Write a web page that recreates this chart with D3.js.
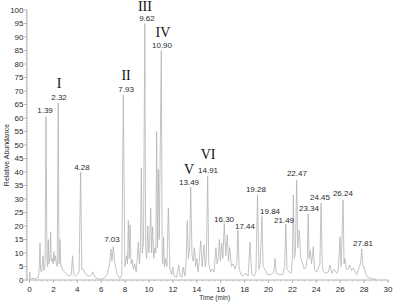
<!DOCTYPE html>
<html><head><meta charset="utf-8">
<script src="https://cdn.jsdelivr.net/npm/d3@7"></script>
<style>html,body{margin:0;padding:0;background:#fff;}svg{display:block;}</style>
</head><body>
<script>
// Chromatogram trace: [time (min), relative abundance]
const trace = [[0,0],[0.02,3],[0.05,0.8],[0.1,0.5],[0.5,0.5],[0.75,1],[0.82,5],[0.88,13.7],[0.93,4],[1.0,3],[1.08,6],[1.13,9],[1.2,3.5],[1.3,5],[1.38,60.4],[1.46,8],[1.52,5],[1.57,15],[1.63,6],[1.7,8],[1.77,17.8],[1.83,7],[1.9,8],[1.97,6],[2.05,10.5],[2.1,7],[2.17,9],[2.25,6],[2.32,5],[2.4,65.5],[2.47,6],[2.55,15],[2.62,5],[2.7,5],[2.8,3.5],[2.95,3],[3.1,2],[3.3,1.5],[3.5,2],[3.6,9],[3.7,2],[3.85,1.5],[4.0,2],[4.15,3],[4.28,40],[4.38,4],[4.5,4],[4.65,2.5],[4.85,1.5],[5.1,1.5],[5.3,3],[5.5,1],[5.8,0.3],[6.2,0.5],[6.5,2],[6.7,6],[6.82,11.5],[6.9,7],[7.01,12.3],[7.15,6],[7.35,2],[7.55,0.5],[7.72,2],[7.85,68.5],[7.98,5],[8.12,9],[8.2,6],[8.27,22],[8.34,8],[8.41,20.4],[8.5,6],[8.6,7.5],[8.7,4],[8.8,6],[8.92,3],[9.02,8],[9.1,14],[9.2,6],[9.28,12],[9.36,41.5],[9.44,10],[9.54,14],[9.65,95],[9.72,12],[9.8,8],[9.9,20],[9.98,10],[10.06,14],[10.14,26.7],[10.22,10],[10.3,19.7],[10.4,8],[10.5,12],[10.57,10],[10.64,55],[10.71,12],[10.78,41],[10.86,15],[11.03,85],[11.1,10],[11.15,6],[11.22,16],[11.3,5],[11.4,8],[11.5,5],[11.62,26.7],[11.75,4],[11.9,2],[11.98,4.8],[12.1,1.5],[12.3,1],[12.5,5.5],[12.6,1.5],[12.75,1],[12.85,4.8],[13.0,1.5],[13.1,6],[13.2,22],[13.3,8],[13.4,12],[13.49,34.4],[13.6,9],[13.7,7],[13.8,12],[13.9,5],[14.0,8],[14.1,3],[14.2,7],[14.33,14.5],[14.45,5],[14.6,13],[14.7,5],[14.8,8],[14.91,38.5],[15.0,6],[15.15,3],[15.3,4],[15.45,3],[15.6,12],[15.7,6],[15.8,8],[15.88,15],[15.98,7],[16.08,13.7],[16.18,8],[16.3,21],[16.42,9],[16.55,16.7],[16.65,7],[16.75,12],[16.9,5],[17.05,6],[17.2,4],[17.35,6],[17.44,18.5],[17.55,4],[17.7,2],[17.9,1.5],[18.1,2.5],[18.3,1.5],[18.45,14],[18.6,2],[18.8,1.5],[18.95,3],[19.08,31.5],[19.2,4],[19.3,6],[19.45,23.5],[19.55,5],[19.7,4],[19.9,2],[20.2,2],[20.45,3],[20.55,8],[20.65,2.5],[20.9,2],[21.2,2],[21.35,5],[21.45,20.7],[21.55,4],[21.7,3],[21.9,2.5],[22.0,8],[22.08,31.5],[22.16,8],[22.25,10],[22.36,37],[22.45,12],[22.58,18.5],[22.7,8],[22.85,6],[23.0,4],[23.15,5],[23.25,8],[23.32,24.4],[23.4,8],[23.5,11],[23.6,6],[23.68,9],[23.75,12.3],[23.85,4],[24.0,3],[24.15,4],[24.3,6],[24.4,28.5],[24.5,5],[24.6,3],[24.8,2.5],[25.0,3],[25.15,5.5],[25.3,2.5],[25.5,4],[25.7,2.5],[25.85,4],[25.98,16],[26.08,5],[26.24,29.6],[26.32,6],[26.4,8],[26.5,4],[26.65,4],[26.8,5.5],[26.95,3.5],[27.1,4.5],[27.25,3],[27.4,2],[27.6,5],[27.7,6],[27.81,11.5],[27.9,5],[28.0,5],[28.15,2],[28.3,1],[28.5,0.8],[28.8,0.3],[29.0,0.3]];

// Peak retention-time labels: [text, time, abundance]
const peakLabels = [["1.39",1.30,61.9],["2.32",2.47,66.7],["7.93",8.08,69.6],["4.28",4.39,40.7],["7.03",6.9,14.1],["9.62",9.83,95.9],["10.90",11.09,85.9],["13.49",13.35,35.2],["14.91",14.94,39.6],["16.30",16.28,21.5],["17.44",18.03,18.9],["19.28",18.95,32.6],["19.84",20.13,24.4],["21.49",21.3,21.1],["22.47",22.38,38.5],["23.34",23.39,25.6],["24.45",24.31,29.6],["26.24",26.23,31.1],["27.81",27.91,12.6]];

// Compound group numerals: [text, time, abundance]
const romanLabels = [["I",2.47,71.1],["II",8.08,74.1],["III",9.66,99.6],["IV",11.17,90],["V",13.35,39.3],["VI",14.94,44.8]];

const xTicks = [0,2,4,6,8,10,12,14,16,18,20,22,24,26,28,30];
const yTicks = [0,5,10,15,20,25,30,35,40,45,50,55,60,65,70,75,80,85,90,95,100];

const W = 400, H = 306;
const svg = d3.select("body").append("svg").attr("width", W).attr("height", H);
const x = d3.scaleLinear().domain([0,30]).range([29.5,388]);
const y = d3.scaleLinear().domain([0,100]).range([280,10]);
const axisColor = "#a0a0a0", textColor = "#2a2a2a";

// Y axis
const yAxisX = 27;
const yMinor = d3.range(0,101,1);
const gy = svg.append("g").attr("transform",`translate(${yAxisX},0)`);
gy.append("line").attr("y1",y(0)).attr("y2",y(100)).attr("stroke",axisColor).attr("stroke-width",0.8);
gy.selectAll("line.minor").data(yMinor).join("line").attr("class","minor")
  .attr("x1",-1.5).attr("x2",0).attr("y1",d=>y(d)).attr("y2",d=>y(d)).attr("stroke",axisColor).attr("stroke-width",0.5);
gy.selectAll("line.major").data(yTicks).join("line").attr("class","major")
  .attr("x1",-3).attr("x2",0).attr("y1",d=>y(d)).attr("y2",d=>y(d)).attr("stroke",axisColor).attr("stroke-width",0.7);
gy.selectAll("text").data(yTicks).join("text")
  .attr("x",-3.5).attr("y",d=>y(d)).attr("dy","0.35em").attr("text-anchor","end")
  .attr("font-family","Liberation Sans, Arial, sans-serif").attr("font-size",8).attr("fill",textColor).text(d=>d);

// X axis
const xMinor = d3.range(0,30.01,0.5);
const gx = svg.append("g").attr("transform",`translate(0,${y(0)})`);
gx.append("line").attr("x1",yAxisX).attr("x2",x(30)).attr("stroke",axisColor).attr("stroke-width",0.8);
gx.selectAll("line.minor").data(xMinor).join("line").attr("class","minor")
  .attr("x1",d=>x(d)).attr("x2",d=>x(d)).attr("y1",0).attr("y2",1.5).attr("stroke",axisColor).attr("stroke-width",0.5);
gx.selectAll("line.major").data(xTicks).join("line").attr("class","major")
  .attr("x1",d=>x(d)).attr("x2",d=>x(d)).attr("y1",0).attr("y2",3).attr("stroke",axisColor).attr("stroke-width",0.7);
gx.selectAll("text").data(xTicks).join("text")
  .attr("x",d=>x(d)).attr("y",11.5).attr("text-anchor","middle")
  .attr("font-family","Liberation Sans, Arial, sans-serif").attr("font-size",8).attr("fill",textColor).text(d=>d);

// Axis titles
svg.append("text").attr("x",x(15.5)).attr("y",300).attr("text-anchor","middle")
  .attr("font-family","Liberation Sans, Arial, sans-serif").attr("font-size",6.5).attr("fill",textColor).text("Time (min)");
svg.append("text").attr("transform",`translate(8.5,${y(50)+10}) rotate(-90)`).attr("text-anchor","middle")
  .attr("font-family","Liberation Sans, Arial, sans-serif").attr("font-size",7).attr("fill",textColor).text("Relative Abundance");

// Trace
const line = d3.line().x(d=>x(d[0])).y(d=>y(d[1]));
svg.append("path").datum(trace).attr("d",line).attr("fill","none")
  .attr("stroke","#b4b4b4").attr("stroke-width",0.8).attr("stroke-linejoin","round");

// Peak labels
svg.selectAll("text.pk").data(peakLabels).join("text").attr("class","pk")
  .attr("x",d=>x(d[1])).attr("y",d=>y(d[2])).attr("text-anchor","middle")
  .attr("font-family","Liberation Sans, Arial, sans-serif").attr("font-size",8).attr("fill",textColor).text(d=>d[0]);

// Roman numerals
svg.selectAll("text.rn").data(romanLabels).join("text").attr("class","rn")
  .attr("x",d=>x(d[1])).attr("y",d=>y(d[2])).attr("text-anchor","middle")
  .attr("font-family","Liberation Serif, Times New Roman, serif").attr("font-size",14).attr("fill","#111").text(d=>d[0]);
</script>
</body></html>
